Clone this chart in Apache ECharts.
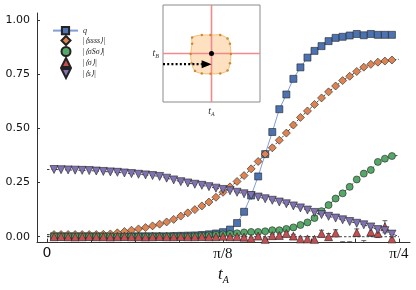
<!DOCTYPE html>
<html>
<head>
<meta charset="utf-8">
<script src="https://cdn.jsdelivr.net/npm/echarts@6/dist/echarts.min.js"></script>
<style>html,body{margin:0;padding:0;background:#fff}#c{width:416px;height:290px}</style>
</head>
<body>
<div id="c"></div>
<script>
// ---- data ----
const tValues = [0.0157,0.0314,0.0471,0.0628,0.0785,0.0942,0.1100,0.1257,0.1414,0.1571,
  0.1728,0.1885,0.2042,0.2199,0.2356,0.2513,0.2670,0.2827,0.2985,0.3142,
  0.3299,0.3456,0.3613,0.3770,0.3927,0.4084,0.4241,0.4398,0.4555,0.4712,
  0.4869,0.5027,0.5184,0.5341,0.5498,0.5655,0.5812,0.5969,0.6126,0.6283,
  0.6440,0.6597,0.6754,0.6912,0.7069,0.7226,0.7383,0.7540,0.7697];
const qValues = [0.002,0.002,0.002,0.002,0.002,0.002,0.002,0.002,0.002,0.002,
  0.002,0.002,0.002,0.002,0.002,0.002,0.002,0.003,0.004,0.005,
  0.006,0.008,0.011,0.015,0.021,0.033,0.063,0.115,0.19,0.278,
  0.381,0.483,0.588,0.656,0.728,0.781,0.826,0.857,0.879,0.902,
  0.917,0.922,0.928,0.935,0.929,0.935,0.931,0.931,0.931];
const ssssValues = [0.01,0.01,0.01,0.01,0.01,0.01,0.01,0.011,0.013,0.018,
  0.024,0.03,0.036,0.042,0.05,0.058,0.068,0.08,0.095,0.11,
  0.125,0.142,0.16,0.182,0.205,0.23,0.255,0.282,0.313,0.347,
  0.381,0.41,0.445,0.478,0.515,0.55,0.58,0.61,0.64,0.668,
  0.695,0.72,0.74,0.762,0.782,0.795,0.805,0.81,0.815];
const sSsValues = [0.002,0.002,0.002,0.002,0.002,0.002,0.002,0.002,0.002,0.002,
  0.002,0.002,0.002,0.002,0.002,0.002,0.002,0.002,0.002,0.002,
  0.003,0.005,0.007,0.009,0.011,0.013,0.016,0.02,0.022,0.022,
  0.025,0.03,0.03,0.036,0.043,0.054,0.066,0.086,0.118,0.146,
  0.176,0.2,0.23,0.264,0.291,0.308,0.345,0.36,0.372];
const sigmaValues = [0.0,0.001,0.0,-0.001,0.0,0.001,0.0,0.0,-0.001,0.0,
  0.001,0.0,0.0,-0.001,0.0,0.001,0.0,0.0,0.001,0.0,
  0.0,0.001,0.0,0.0,0.002,0.0,0.0,-0.002,-0.008,0.003,
  -0.012,0.005,0.006,0.015,0.003,-0.01,-0.01,-0.012,0.015,0.0,
  0.017,-0.04,-0.04,0.019,-0.035,0.022,0.016,0.046,-0.01];
const sigmaErr = [0.003,0.003,0.003,0.003,0.003,0.003,0.003,0.003,0.003,0.003,
  0.003,0.003,0.003,0.003,0.003,0.003,0.003,0.003,0.003,0.003,
  0.003,0.003,0.003,0.003,0.003,0.003,0.003,0.004,0.004,0.005,
  0.006,0.006,0.006,0.007,0.008,0.009,0.01,0.012,0.015,0.015,
  0.015,0.017,0.017,0.017,0.017,0.02,0.02,0.028,0.02];
const sValues = [0.31,0.309,0.308,0.307,0.306,0.305,0.303,0.301,0.299,0.297,
  0.294,0.291,0.288,0.285,0.282,0.278,0.27,0.262,0.254,0.248,
  0.242,0.237,0.231,0.224,0.218,0.212,0.205,0.198,0.19,0.183,
  0.175,0.168,0.16,0.152,0.142,0.133,0.123,0.112,0.102,0.094,
  0.086,0.078,0.07,0.062,0.055,0.045,0.033,0.028,0.012];
// theory curve end values at t=0 and t=pi/4
const theoryT = [0, 0.7854];
const ssssEnds = [0.01, 0.818];
const sSsEnds = [0.002, 0.375];
const sigmaEnds = [0, 0];
const sEnds = [0.31, 0.002];
// tick labels
const xTickValues = [0, 0.3927, 0.7854];
const xTickLabels = ['0', 'π/8', 'π/4'];
const xMinorTicks = [0,0.0982,0.1963,0.2945,0.3927,0.4909,0.5890,0.6872,0.7854];
const yTickValues = [0, 0.25, 0.5, 0.75, 1.0];
// inset diagram
const insetU = [-0.40,-0.20,-0.02,0.18,0.33,0.38,0.40,0.38,0.33,0.18,-0.02,-0.20,-0.34,-0.41,-0.43,-0.40];
const insetV = [0.33,0.38,0.38,0.38,0.31,0.20,-0.01,-0.20,-0.35,-0.41,-0.42,-0.41,-0.36,-0.20,-0.01,0.20];
const insetTicks = [-0.6,-0.2,0.2,0.6];
const arrowY = -0.22;
const arrowShaft = [-1, -0.2];
const arrowHeadU = -0.1;

const pts = v => tValues.map((t,i)=>[t, v[i]]);
const theory = (v, ends) => [[theoryT[0], ends[0]]].concat(pts(v), [[theoryT[1], ends[1]]]);

const C = {blue:'#4c72b0', orange:'#dd8452', green:'#55a868', red:'#c44e52', purple:'#8172b3'};
const edge = {borderColor:'#222', borderWidth:0.6, opacity:1};
const serif = 'Liberation Serif';

const chart = echarts.init(document.getElementById('c'), null, {renderer:'canvas'});
const dashed = {color:'#111', width:0.8, type:[2.5,2]};
const legendText = {fontFamily:serif, fontStyle:'italic', fontSize:8, lineHeight:9, color:'#222'};
const downTri = 'path://M0,0L10,0L5,10Z';

chart.setOption({
  animation:false,
  backgroundColor:'#fff',
  grid:[
    {left:37, right:6, top:13, bottom:43},
    {left:163, top:5, width:97, height:97, show:true, borderColor:'#8a8a8a', borderWidth:1, backgroundColor:'#fff', z:5}
  ],
  legend:[
    {left:52, top:26, orient:'vertical', itemWidth:25, itemHeight:9, padding:0,
     textStyle:legendText, data:['q']},
    {left:60.5, top:35, orient:'vertical', itemWidth:9, itemHeight:9, itemGap:0, padding:0,
     textStyle:Object.assign({padding:[0,0,0,7]}, legendText),
     data:['|⟨ssss⟩|','|⟨σSσ⟩|','|⟨σ⟩|',{name:'|⟨s⟩|', icon:downTri}]}
  ],
  xAxis:[
    {type:'value', gridIndex:0, min:-0.0223, max:0.810,
     axisLine:{show:true, onZero:false, lineStyle:{color:'#333', width:1}},
     axisTick:{show:true, inside:true, length:4, customValues:xMinorTicks, lineStyle:{color:'#333'}},
     axisLabel:{customValues:xTickValues, margin:4, fontFamily:serif, fontSize:15, color:'#111',
       formatter:v=>{const i=xTickValues.findIndex(x=>Math.abs(x-v)<1e-3); return i===0?'{z|0}':xTickLabels[i];},
       rich:{z:{fontFamily:'DejaVu Sans', fontSize:14, color:'#111'}}},
     splitLine:{show:false},
     name:'{t|t}{s|A}', nameLocation:'middle', nameGap:21,
     nameTextStyle:{rich:{t:{fontFamily:serif, fontStyle:'italic', fontSize:17, color:'#111'},
                          s:{fontFamily:serif, fontStyle:'italic', fontSize:10, color:'#111', padding:[10,0,0,0]}}}
    },
    {type:'value', gridIndex:1, min:-1, max:1,
     axisLine:{show:false}, axisLabel:{show:false}, splitLine:{show:false},
     axisTick:{show:true, inside:true, length:2, customValues:insetTicks, lineStyle:{color:'#aaa'}},
     name:'{t|t}{s|A}', nameLocation:'middle', nameGap:3,
     nameTextStyle:{rich:{t:{fontFamily:serif, fontStyle:'italic', fontSize:10, color:'#333'},
                          s:{fontFamily:serif, fontStyle:'italic', fontSize:6, color:'#333', padding:[6,0,0,0]}}}
    }
  ],
  yAxis:[
    {type:'value', gridIndex:0, min:-0.0271, max:1.0317,
     axisLine:{show:true, onZero:false, lineStyle:{color:'#333', width:1}},
     axisTick:{show:true, inside:true, length:3, customValues:yTickValues, lineStyle:{color:'#333'}},
     axisLabel:{customValues:yTickValues, margin:7, fontFamily:'DejaVu Sans', fontSize:11, color:'#111',
       formatter:v=>v.toFixed(2)},
     splitLine:{show:false}
    },
    {type:'value', gridIndex:1, min:-1, max:1,
     axisLine:{show:false}, axisLabel:{show:false}, splitLine:{show:false},
     axisTick:{show:true, inside:true, length:2, customValues:insetTicks, lineStyle:{color:'#aaa'}},
     name:'{t|t}{s|B}', nameLocation:'middle', nameGap:4, nameRotate:0,
     nameTextStyle:{align:'right', rich:{t:{fontFamily:serif, fontStyle:'italic', fontSize:10, color:'#333'},
                          s:{fontFamily:serif, fontStyle:'italic', fontSize:6, color:'#333', padding:[6,0,0,0]}}}
    }
  ],
  series:[
    // theory / guide curves
    {type:'line', name:'th1', data:theory(ssssValues, ssssEnds), showSymbol:false, lineStyle:dashed, silent:true, z:1},
    {type:'line', name:'th2', data:theory(sSsValues, sSsEnds), showSymbol:false, lineStyle:dashed, silent:true, z:1},
    {type:'line', name:'th3', data:[[theoryT[0], sigmaEnds[0]],[theoryT[1], sigmaEnds[1]]], showSymbol:false, lineStyle:dashed, silent:true, z:1},
    {type:'line', name:'th4', data:theory(sValues, sEnds), showSymbol:false, lineStyle:dashed, silent:true, z:1},
    // measured series
    {type:'line', name:'q', data:pts(qValues), symbol:'rect', symbolSize:7,
     lineStyle:{color:'#7f9fd6', width:1}, itemStyle:Object.assign({color:C.blue}, edge), z:2},
    {type:'scatter', name:'|⟨ssss⟩|', data:pts(ssssValues), symbol:'diamond', symbolSize:8,
     itemStyle:Object.assign({color:C.orange}, edge), z:3},
    {type:'scatter', name:'|⟨σSσ⟩|', data:pts(sSsValues), symbol:'circle', symbolSize:7,
     itemStyle:Object.assign({color:C.green}, edge), z:3},
    {type:'custom', name:'errσ', data:tValues.map((t,i)=>[t, sigmaValues[i]-sigmaErr[i], sigmaValues[i]+sigmaErr[i]]),
     clip:true, silent:true, z:3,
     renderItem:(params, api)=>{
       const x=api.value(0), a=api.coord([x, api.value(2)]), b=api.coord([x, api.value(1)]);
       const st={stroke:'#222', lineWidth:0.7};
       return {type:'group', children:[
         {type:'line', shape:{x1:a[0],y1:a[1],x2:b[0],y2:b[1]}, style:st},
         {type:'line', shape:{x1:a[0]-2.5,y1:a[1],x2:a[0]+2.5,y2:a[1]}, style:st},
         {type:'line', shape:{x1:b[0]-2.5,y1:b[1],x2:b[0]+2.5,y2:b[1]}, style:st}
       ]};
     }},
    {type:'scatter', name:'|⟨σ⟩|', data:pts(sigmaValues), symbol:'triangle', symbolSize:8,
     itemStyle:Object.assign({color:C.red}, edge), z:4},
    {type:'scatter', name:'|⟨s⟩|', data:pts(sValues), symbol:'triangle', symbolRotate:180, symbolSize:8,
     itemStyle:Object.assign({color:C.purple}, edge), z:5},
    // inset diagram
    {type:'custom', name:'region', xAxisIndex:1, yAxisIndex:1, data:[[0,0]], silent:true, z:6,
     renderItem:(params, api)=>{
       const p = insetU.map((u,i)=>api.coord([u, insetV[i]]));
       return {type:'polygon', shape:{points:p, smooth:0.35}, style:{fill:'rgba(252,205,150,0.6)', stroke:'#f3b25c', lineWidth:0.8}};
     }},
    {type:'line', name:'vline', xAxisIndex:1, yAxisIndex:1, data:[[0,-1],[0,1]], showSymbol:false, silent:true,
     lineStyle:{color:'#f28a8c', width:1.6}, z:7},
    {type:'line', name:'hline', xAxisIndex:1, yAxisIndex:1, data:[[-1,0],[1,0]], showSymbol:false, silent:true,
     lineStyle:{color:'#f28a8c', width:1.6}, z:7},
    {type:'scatter', name:'rdots', xAxisIndex:1, yAxisIndex:1, data:insetU.map((u,i)=>[u, insetV[i]]),
     symbolSize:2.5, itemStyle:{color:'#c98a33', opacity:1}, silent:true, z:8},
    {type:'scatter', name:'centre', xAxisIndex:1, yAxisIndex:1, data:[[0,0]], symbolSize:5,
     itemStyle:{color:'#000', opacity:1}, silent:true, z:9},
    {type:'line', name:'arrow', xAxisIndex:1, yAxisIndex:1, data:[[arrowShaft[0], arrowY],[arrowShaft[1], arrowY]],
     showSymbol:false, silent:true, lineStyle:{color:'#000', width:2.4, type:[2,2.2]}, z:9},
    {type:'scatter', name:'arrowhead', xAxisIndex:1, yAxisIndex:1, data:[[arrowHeadU, arrowY]],
     symbol:'triangle', symbolRotate:-90, symbolSize:[8,10], itemStyle:{color:'#000', opacity:1}, silent:true, z:9}
  ]
});
</script>
</body>
</html>
